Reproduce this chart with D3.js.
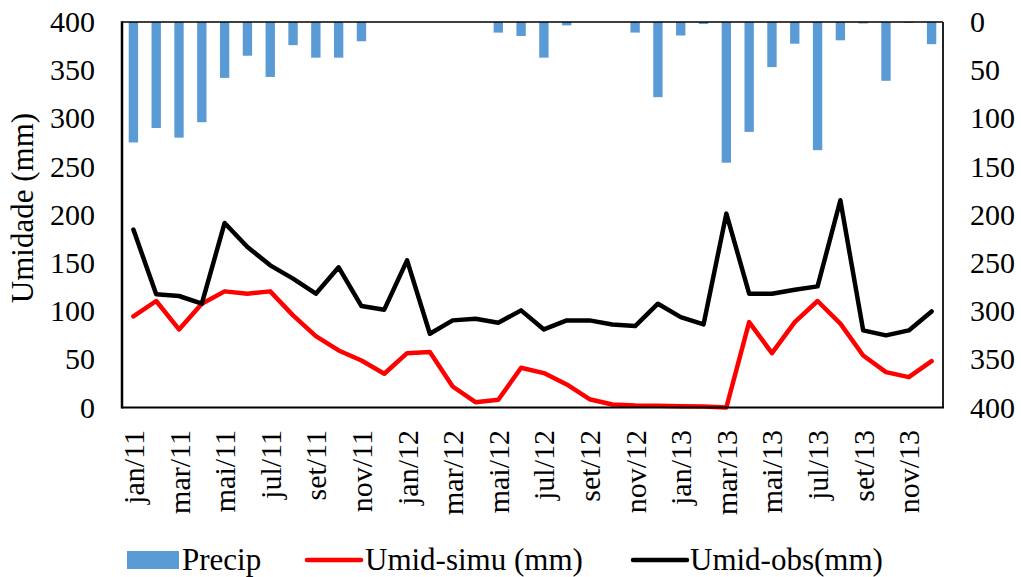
<!DOCTYPE html>
<html>
<head>
<meta charset="utf-8">
<script src="https://cdn.jsdelivr.net/npm/d3@7"></script>
<style>
  html, body { margin: 0; padding: 0; background: #fff; }
  svg { display: block; }
  svg text { font-family: "Liberation Serif", serif; fill: #000; }
</style>
</head>
<body>
<svg id="chart" width="1021" height="577"></svg>
<script>
const months = ["jan","fev","mar","abr","mai","jun","jul","ago","set","out","nov","dez"];
const years = ["11","12","13"];
const categories = [];
years.forEach(y => months.forEach(m => categories.push(m + "/" + y)));

const precip = [125,110,120,104,58,35,57,24,37,37,20,0,
                0,0,0,0,11,14.5,37,3.5,0,0,11,78,
                14,2,146,114,46.8,22.5,133,19,1.5,61,1,23];
const umidSimu = [94.5,110.5,81,107.7,120.5,118.1,120.5,95.6,74.1,59.2,48.8,35,
                  56.4,57.5,21.8,5.5,8,41.2,35.7,23.9,8.6,3.1,2,1.7,
                  1.4,1,0,88.6,56.4,88.6,110.5,87,54,36.7,31.5,48.1];
const umidObs = [184.6,117.4,115.7,107.7,191.5,166.6,147.5,133.7,118.1,145.5,105.3,101.5,
                 152.7,76.5,90.4,92.1,88,100.8,81,90.4,90.4,86.2,84.5,107.7,
                 93.8,86.2,201.2,118.1,118.1,122.2,125.7,215,80,74.8,80,99.7];
const leftTicks = [0,50,100,150,200,250,300,350,400];
const rightTicks = [0,50,100,150,200,250,300,350,400];
const seriesNames = ["Precip", "Umid-simu (mm)", "Umid-obs(mm)"];

const FONT = "Liberation Serif";
const svg = d3.select("#chart");
const L = 122, R = 943, T = 22, B = 407.5;

const x = d3.scaleBand().domain(categories).range([L, R]).padding(0);
const yL = d3.scaleLinear().domain([0, 400]).range([B, T]);
const yR = d3.scaleLinear().domain([0, 400]).range([T, B]);

const bw = x.bandwidth() * 0.41;
svg.append("g").selectAll("rect").data(precip).enter().append("rect")
  .attr("x", (d, i) => x(categories[i]) + x.bandwidth() / 2 - bw / 2)
  .attr("y", yR(0))
  .attr("width", bw)
  .attr("height", d => yR(d) - yR(0))
  .attr("fill", "#5B9BD5");

const line = d3.line()
  .x((d, i) => x(categories[i]) + x.bandwidth() / 2)
  .y(d => yL(d));
svg.append("path").datum(umidSimu).attr("d", line)
  .attr("fill", "none").attr("stroke", "#FF0000").attr("stroke-width", 4.5)
  .attr("stroke-linejoin", "round").attr("stroke-linecap", "round");
svg.append("path").datum(umidObs).attr("d", line)
  .attr("fill", "none").attr("stroke", "#000000").attr("stroke-width", 4.5)
  .attr("stroke-linejoin", "round").attr("stroke-linecap", "round");

svg.append("line").attr("x1", L).attr("x2", R).attr("y1", T).attr("y2", T).attr("stroke", "#000").attr("stroke-width", 1.5);
svg.append("line").attr("x1", R).attr("x2", R).attr("y1", T).attr("y2", B).attr("stroke", "#222").attr("stroke-width", 2);
svg.append("line").attr("x1", L).attr("x2", L).attr("y1", T - 0.75).attr("y2", B + 1).attr("stroke", "#000").attr("stroke-width", 2.5);
svg.append("line").attr("x1", L).attr("x2", R + 1).attr("y1", B).attr("y2", B).attr("stroke", "#000").attr("stroke-width", 2);

const gL = svg.append("g").attr("transform", `translate(${L},0)`)
  .call(d3.axisLeft(yL).tickValues(leftTicks).tickSize(0).tickPadding(27));
gL.select(".domain").remove();
gL.attr("font-family", FONT).attr("font-size", 30);
gL.selectAll("text").attr("font-family", FONT).attr("font-size", 30);

const gR = svg.append("g").attr("transform", `translate(${R},0)`)
  .call(d3.axisRight(yR).tickValues(rightTicks).tickSize(0).tickPadding(27));
gR.select(".domain").remove();
gR.attr("font-family", FONT).attr("font-size", 30);
gR.selectAll("text").attr("font-family", FONT).attr("font-size", 30);

svg.append("g").selectAll("text")
  .data(categories.filter((c, i) => i % 2 === 0)).enter().append("text")
  .attr("transform", d => `translate(${x(d) + x.bandwidth() / 2},430) rotate(-90)`)
  .attr("text-anchor", "end")
  .attr("dy", "0.35em")
  .attr("font-family", FONT).attr("font-size", 30)
  .text(d => d);

svg.append("text")
  .attr("transform", "translate(33,208) rotate(-90)")
  .attr("text-anchor", "middle")
  .attr("font-family", FONT).attr("font-size", 31)
  .text("Umidade (mm)");

const lg = svg.append("g").attr("font-family", FONT).attr("font-size", 31);
lg.append("rect").attr("x", 127).attr("y", 551).attr("width", 52).attr("height", 18).attr("fill", "#5B9BD5");
lg.append("text").attr("x", 182).attr("y", 570).text(seriesNames[0]);
lg.append("line").attr("x1", 307).attr("x2", 361).attr("y1", 560).attr("y2", 560)
  .attr("stroke", "#FF0000").attr("stroke-width", 4.5).attr("stroke-linecap", "round");
lg.append("text").attr("x", 365).attr("y", 570).text(seriesNames[1]);
lg.append("line").attr("x1", 633).attr("x2", 687).attr("y1", 560).attr("y2", 560)
  .attr("stroke", "#000").attr("stroke-width", 4.5).attr("stroke-linecap", "round");
lg.append("text").attr("x", 690).attr("y", 570).text(seriesNames[2]);
</script>
</body>
</html>
